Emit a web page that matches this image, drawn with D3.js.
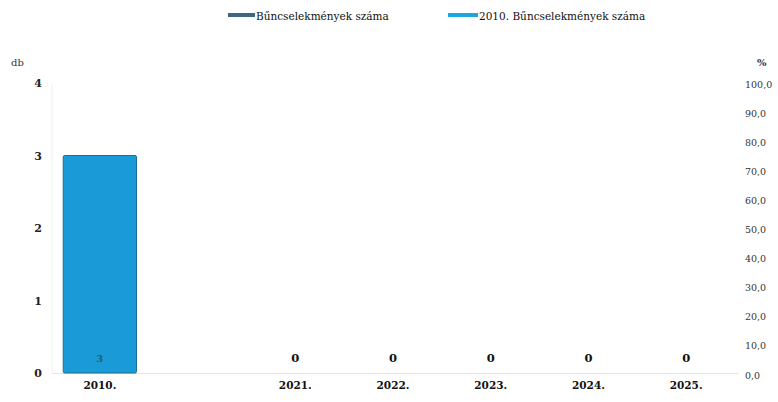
<!DOCTYPE html>
<html>
<head>
<meta charset="utf-8">
<script src="https://cdn.jsdelivr.net/npm/d3@7"></script>
<style>
  html, body { margin: 0; padding: 0; background: #fff; }
  svg { display: block; }
</style>
</head>
<body>
<div id="chart"></div>
<script>
// categories (one empty slot between 2010 and 2021)
const categories = ['2010.', 'gap', '2021.', '2022.', '2023.', '2024.', '2025.'];
const values2010 = [3, null, null, null, null, null, null];   // 2010. Bűncselekmények száma
const valuesCount = [null, null, 0, 0, 0, 0, 0];             // Bűncselekmények száma
const leftTicks = [0, 1, 2, 3, 4];
const rightTicks = [0, 10, 20, 30, 40, 50, 60, 70, 80, 90, 100];
const legendNames = ['Bűncselekmények száma', '2010. Bűncselekmények száma'];

const W = 778, H = 402;
const FONT = 'DejaVu Serif';
const colors = { count: '#3f6783', y2010: '#1a9bd7', y2010Edge: '#1f6f93' };

const svg = d3.select('#chart').append('svg')
	.attr('width', W)
	.attr('height', H)
	.attr('font-family', FONT);

// scales
const x = d3.scaleBand().domain(categories).range([51, 735]).paddingInner(0.25).paddingOuter(0.125);
const y = d3.scaleLinear().domain([0, 4]).range([373, 83]);
const yR = d3.scaleLinear().domain([0, 100]).range([375, 84]);

// faint axis lines
svg.append('line')
	.attr('x1', 52).attr('x2', 52)
	.attr('y1', y(4)).attr('y2', y(0))
	.attr('stroke', '#f0f0f0');
svg.append('line')
	.attr('x1', 52).attr('x2', 738)
	.attr('y1', y(0) + 0.5).attr('y2', y(0) + 0.5)
	.attr('stroke', '#e4e4e4');

// bars
const bars = categories.map((c, i) => ({ cat: c, v: values2010[i] })).filter(d => d.v !== null);
svg.selectAll('rect.bar')
	.data(bars)
	.enter()
	.append('rect')
	.attr('class', 'bar')
	.attr('x', d => x(d.cat))
	.attr('y', d => y(d.v))
	.attr('width', x.bandwidth())
	.attr('height', d => y(0) - y(d.v))
	.attr('rx', 1.5)
	.attr('fill', colors.y2010)
	.attr('stroke', colors.y2010Edge)
	.attr('stroke-width', 1);

// value labels
svg.selectAll('text.bar-label')
	.data(bars)
	.enter()
	.append('text')
	.attr('x', d => x(d.cat) + x.bandwidth() / 2)
	.attr('y', y(0) - 11)
	.attr('text-anchor', 'middle')
	.attr('font-size', 10)
	.attr('font-weight', 'bold')
	.attr('fill', '#2b5a70')
	.text(d => d.v);

const zeros = categories.map((c, i) => ({ cat: c, v: valuesCount[i] })).filter(d => d.v !== null);
svg.selectAll('text.zero-label')
	.data(zeros)
	.enter()
	.append('text')
	.attr('x', d => x(d.cat) + x.bandwidth() / 2)
	.attr('y', y(0) - 11)
	.attr('text-anchor', 'middle')
	.attr('font-size', 11.5)
	.attr('font-weight', 'bold')
	.attr('fill', '#111')
	.text(d => d.v);

// x axis
const xAxis = d3.axisBottom(x).tickSize(0).tickPadding(9).tickFormat(d => d === 'gap' ? '' : d);
const gx = svg.append('g')
	.attr('transform', 'translate(0,' + y(0) + ')')
	.call(xAxis)
	.attr('font-family', FONT);
gx.select('.domain').remove();
gx.selectAll('text')
	.attr('font-size', 10.5)
	.attr('font-weight', 'bold')
	.attr('fill', '#111');

// left axis
const gl = svg.append('g')
	.attr('transform', 'translate(42,0)')
	.call(d3.axisLeft(y).tickValues(leftTicks).tickSize(0).tickPadding(0).tickFormat(d3.format('d')))
	.attr('font-family', FONT);
gl.select('.domain').remove();
gl.selectAll('text')
	.attr('font-size', 11)
	.attr('font-weight', 'bold')
	.attr('fill', '#222');

// right axis
const fmt = v => d3.format('.1f')(v).replace('.', ',');
const gr = svg.append('g')
	.attr('transform', 'translate(745,0)')
	.call(d3.axisRight(yR).tickValues(rightTicks).tickSize(0).tickPadding(0).tickFormat(fmt))
	.attr('font-family', FONT);
gr.select('.domain').remove();
gr.selectAll('text')
	.attr('font-size', 9.5)
	.attr('fill', '#333');

// axis titles
svg.append('text')
	.attr('x', 11).attr('y', 66)
	.attr('font-size', 10)
	.attr('fill', '#333')
	.text('db');
svg.append('text')
	.attr('x', 757).attr('y', 66)
	.attr('font-size', 10)
	.attr('font-weight', 'bold')
	.attr('fill', '#333')
	.text('%');

// legend
const legend = [
	{ name: legendNames[0], color: colors.count, x: 228, w: 27 },
	{ name: legendNames[1], color: '#1ea6e0', x: 448, w: 30 }
];
const lg = svg.selectAll('g.legend')
	.data(legend)
	.enter()
	.append('g')
	.attr('transform', d => 'translate(' + d.x + ',0)');
lg.append('rect')
	.attr('x', 0).attr('y', 13)
	.attr('width', d => d.w).attr('height', 4)
	.attr('fill', d => d.color);
lg.append('text')
	.attr('x', d => d.w + 1).attr('y', 20)
	.attr('font-size', 10.5)
	.attr('fill', '#111')
	.text(d => d.name);
</script>
</body>
</html>
